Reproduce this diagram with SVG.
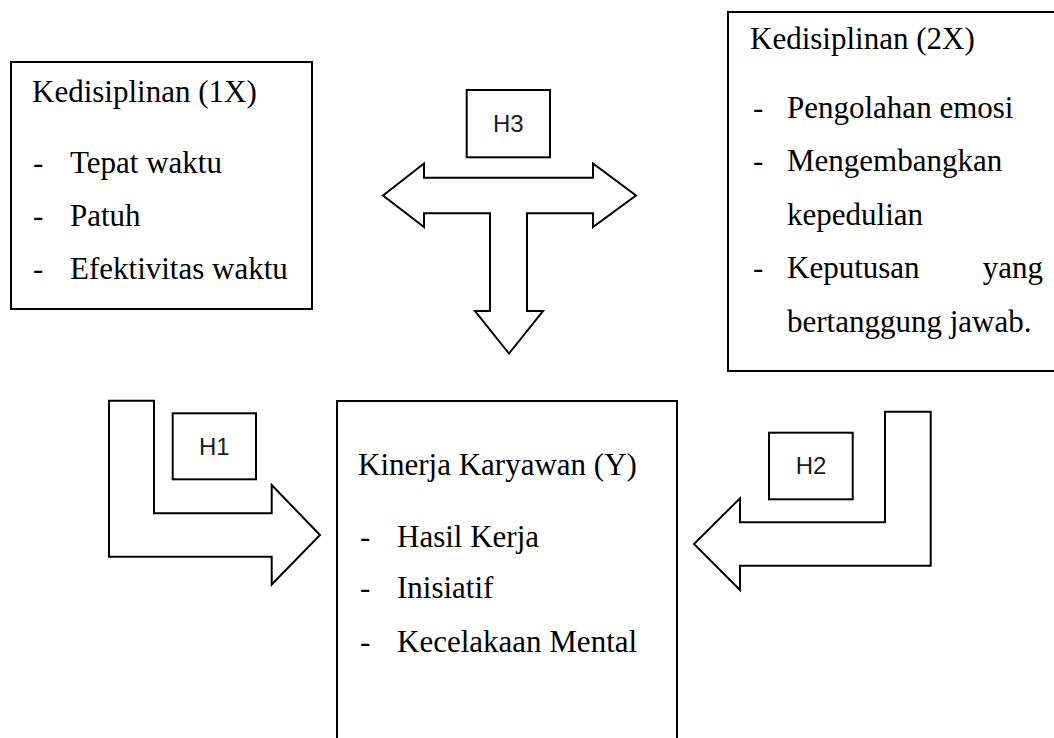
<svg xmlns="http://www.w3.org/2000/svg" width="1054" height="738" viewBox="0 0 1054 738">
<style>
.box{fill:#fff;stroke:#000;stroke-width:2}
.arr{fill:#fff;stroke:#000;stroke-width:2;stroke-linejoin:miter}
.t{font-family:"Liberation Serif","Times New Roman",serif;font-size:31px;fill:#000}
.h{font-family:"Liberation Sans",Arial,sans-serif;font-size:24px;fill:#1a1a1a;text-anchor:middle}
</style>
<rect width="1054" height="738" fill="#fff"/>
<g id="connectors">
<polygon class="arr" points="383,195.5 424,163.5 424,177.7 593,177.7 593,163.5 636,195.5 593,227 593,213.3 527,213.3 527,311 543,311 509,353.5 475,311 490,311 490,213.3 424,213.3 424,227"/>
<polygon class="arr" points="109,400.7 154,400.7 154,513.3 271.7,513.3 271.7,485 320,535 271.7,584.5 271.7,556.7 109,556.7"/>
<polygon class="arr" points="885,411.7 930.7,411.7 930.7,565.7 740,565.7 740,590 694,544 740,498.3 740,522.3 885,522.3"/>
</g>
<g id="h3">
<rect class="box" x="466.7" y="90" width="83.3" height="67.3"/>
<text class="h" x="508.3" y="132">H3</text>
</g>
<g id="h1">
<rect class="box" x="172.7" y="413.3" width="83.3" height="66"/>
<text class="h" x="214.3" y="455">H1</text>
</g>
<g id="h2">
<rect class="box" x="769" y="432.7" width="83.7" height="66.6"/>
<text class="h" x="811" y="474">H2</text>
</g>
<g id="box1">
<rect class="box" x="11" y="62" width="301" height="247"/>
<text class="t" x="32" y="102">Kedisiplinan (1X)</text>
<text class="t" x="33" y="173">-</text><text class="t" x="70" y="173">Tepat waktu</text>
<text class="t" x="33" y="226">-</text><text class="t" x="70" y="226">Patuh</text>
<text class="t" x="33" y="279">-</text><text class="t" x="70" y="279">Efektivitas waktu</text>
</g>
<g id="box2">
<rect class="box" x="728" y="12" width="340" height="359"/>
<text class="t" x="750" y="49">Kedisiplinan (2X)</text>
<text class="t" x="753" y="118">-</text><text class="t" x="787" y="118">Pengolahan emosi</text>
<text class="t" x="753" y="171">-</text><text class="t" x="787" y="171">Mengembangkan</text>
<text class="t" x="787" y="225">kepedulian</text>
<text class="t" x="753" y="278">-</text><text class="t" x="787" y="278">Keputusan</text><text class="t" x="1043" y="278" text-anchor="end">yang</text>
<text class="t" x="787" y="332">bertanggung jawab.</text>
</g>
<g id="box3">
<rect class="box" x="337" y="401" width="340" height="350"/>
<text class="t" x="358" y="475">Kinerja Karyawan (Y)</text>
<text class="t" x="360" y="547">-</text><text class="t" x="397" y="547">Hasil Kerja</text>
<text class="t" x="360" y="598">-</text><text class="t" x="397" y="598">Inisiatif</text>
<text class="t" x="360" y="652">-</text><text class="t" x="397" y="652">Kecelakaan Mental</text>
</g>
</svg>
